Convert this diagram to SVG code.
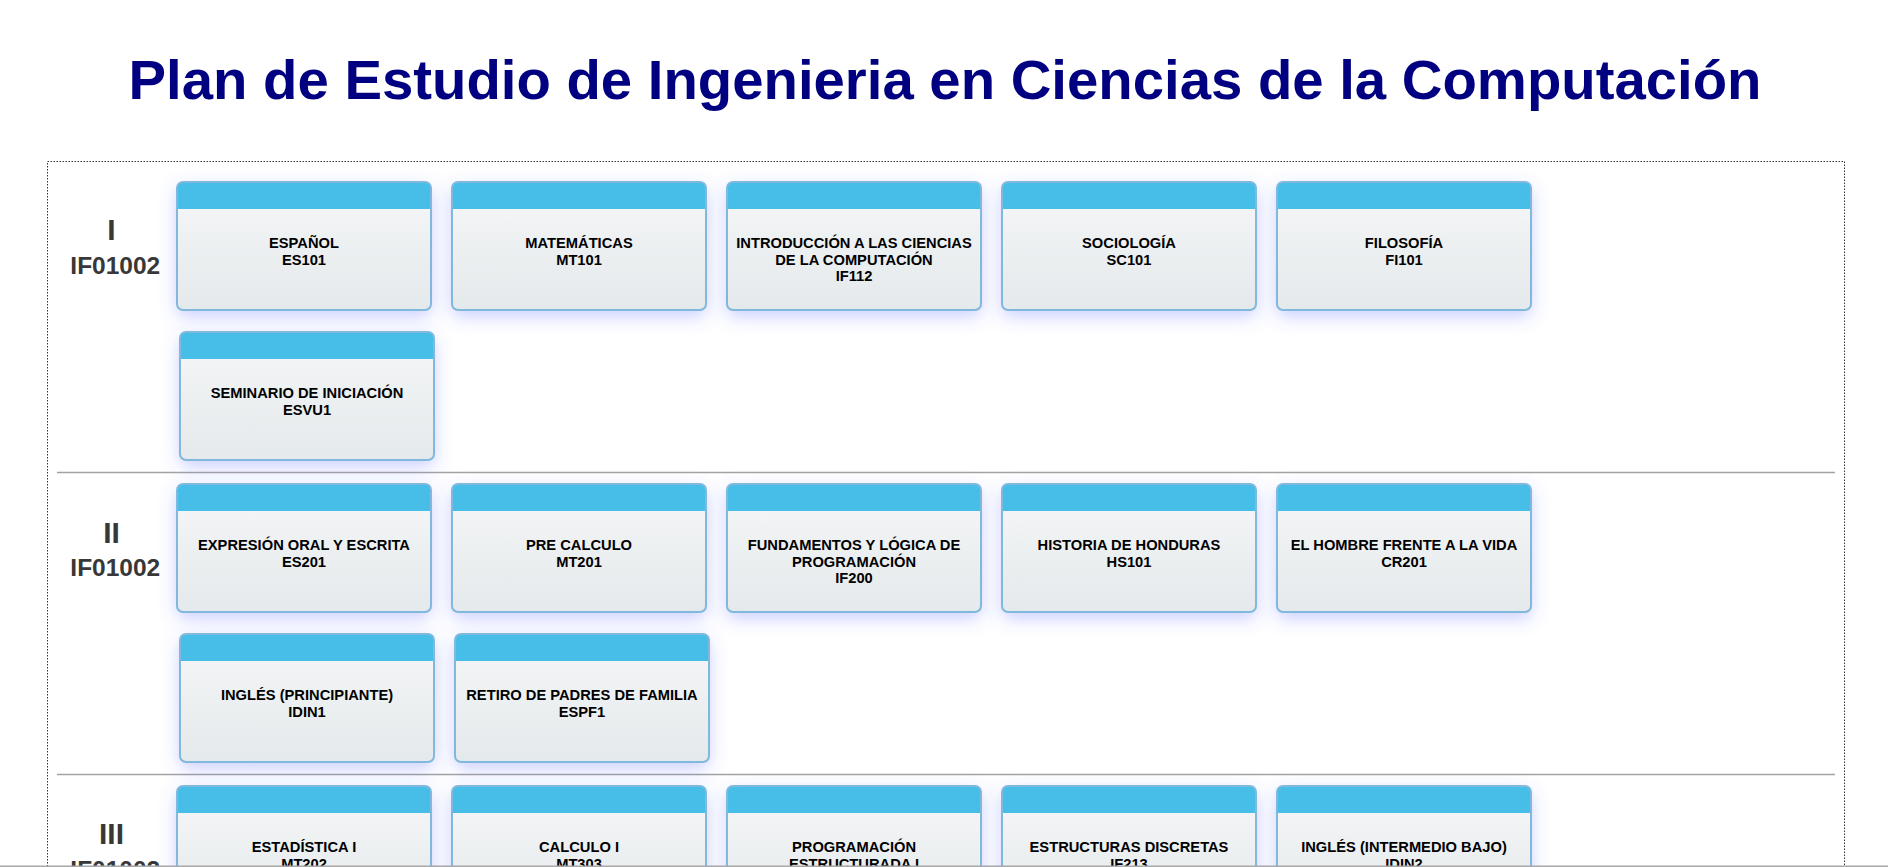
<svg xmlns="http://www.w3.org/2000/svg" xmlns:xlink="http://www.w3.org/1999/xlink" width="1888" height="867" viewBox="0 0 1888 867">
<style>
.title{font-family:"Liberation Sans",Arial,sans-serif;font-weight:bold;font-size:56.3px;fill:#000080;text-anchor:middle}
.sem{font-family:"Liberation Sans",Arial,sans-serif;font-weight:bold;font-size:30px;fill:#383838;text-anchor:middle}
.code{font-family:"Liberation Sans",Arial,sans-serif;font-weight:bold;font-size:24.5px;fill:#383838;text-anchor:middle}
.t{font-family:"Liberation Sans",Arial,sans-serif;font-weight:bold;font-size:14.7px;fill:#000;text-anchor:middle}
.sep{stroke:#a3a3a3;stroke-width:1.5}
</style>
<defs>
<linearGradient id="body" x1="0" y1="0" x2="0" y2="1">
<stop offset="0" stop-color="#f6f7f8"/>
<stop offset="1" stop-color="#e4e9eb"/>
</linearGradient>
<filter id="glow" x="-25%" y="-25%" width="150%" height="160%">
<feDropShadow dx="0" dy="6" stdDeviation="9" flood-color="#4a5cff" flood-opacity="0.3"/>
</filter>
<g id="card">
<rect x="0" y="0" width="254" height="128" rx="6" fill="url(#body)" filter="url(#glow)"/>
<path d="M0,27 V6 Q0,0 6,0 H248 Q254,0 254,6 V27 Z" fill="#46bee8"/>
<rect x="0" y="0" width="254" height="128" rx="6" fill="none" stroke="#80b9dd" stroke-width="2"/>
</g>
</defs>
<rect width="1888" height="867" fill="#fff"/>
<text class="title" x="945" y="99">Plan de Estudio de Ingenieria en Ciencias de la Computación</text>
<rect x="47.5" y="161.5" width="1797" height="720" fill="none" stroke="#333" stroke-width="1" stroke-dasharray="1.5,1.5"/>
<g id="separators">
<line class="sep" x1="57" y1="472.5" x2="1835" y2="472.5"/>
<line class="sep" x1="57" y1="774.5" x2="1835" y2="774.5"/>
</g>
<g id="sem1">
<text class="sem" x="111.5" y="240">I</text>
<text class="code" x="115.3" y="274">IF01002</text>
</g>
<g id="sem2">
<text class="sem" x="111.5" y="543">II</text>
<text class="code" x="115.3" y="576">IF01002</text>
</g>
<g id="sem3">
<text class="sem" x="111.5" y="844">III</text>
<text class="code" x="115.3" y="878">IF01002</text>
</g>
<g id="es101" transform="translate(177,182)"><use href="#card"/><text class="t" x="127" y="66">ESPAÑOL</text><text class="t" x="127" y="83">ES101</text></g>
<g id="mt101" transform="translate(452,182)"><use href="#card"/><text class="t" x="127" y="66">MATEMÁTICAS</text><text class="t" x="127" y="83">MT101</text></g>
<g id="if112" transform="translate(727,182)"><use href="#card"/><text class="t" x="127" y="66">INTRODUCCIÓN A LAS CIENCIAS</text><text class="t" x="127" y="82.7">DE LA COMPUTACIÓN</text><text class="t" x="127" y="99.4">IF112</text></g>
<g id="sc101" transform="translate(1002,182)"><use href="#card"/><text class="t" x="127" y="66">SOCIOLOGÍA</text><text class="t" x="127" y="83">SC101</text></g>
<g id="fi101" transform="translate(1277,182)"><use href="#card"/><text class="t" x="127" y="66">FILOSOFÍA</text><text class="t" x="127" y="83">FI101</text></g>
<g id="esvu1" transform="translate(180,332)"><use href="#card"/><text class="t" x="127" y="66">SEMINARIO DE INICIACIÓN</text><text class="t" x="127" y="83">ESVU1</text></g>
<g id="es201" transform="translate(177,484)"><use href="#card"/><text class="t" x="127" y="66">EXPRESIÓN ORAL Y ESCRITA</text><text class="t" x="127" y="83">ES201</text></g>
<g id="mt201" transform="translate(452,484)"><use href="#card"/><text class="t" x="127" y="66">PRE CALCULO</text><text class="t" x="127" y="83">MT201</text></g>
<g id="if200" transform="translate(727,484)"><use href="#card"/><text class="t" x="127" y="66">FUNDAMENTOS Y LÓGICA DE</text><text class="t" x="127" y="82.7">PROGRAMACIÓN</text><text class="t" x="127" y="99.4">IF200</text></g>
<g id="hs101" transform="translate(1002,484)"><use href="#card"/><text class="t" x="127" y="66">HISTORIA DE HONDURAS</text><text class="t" x="127" y="83">HS101</text></g>
<g id="cr201" transform="translate(1277,484)"><use href="#card"/><text class="t" x="127" y="66">EL HOMBRE FRENTE A LA VIDA</text><text class="t" x="127" y="83">CR201</text></g>
<g id="idin1" transform="translate(180,634)"><use href="#card"/><text class="t" x="127" y="66">INGLÉS (PRINCIPIANTE)</text><text class="t" x="127" y="83">IDIN1</text></g>
<g id="espf1" transform="translate(455,634)"><use href="#card"/><text class="t" x="127" y="66">RETIRO DE PADRES DE FAMILIA</text><text class="t" x="127" y="83">ESPF1</text></g>
<g id="mt202" transform="translate(177,786)"><use href="#card"/><text class="t" x="127" y="66">ESTADÍSTICA I</text><text class="t" x="127" y="83">MT202</text></g>
<g id="mt303" transform="translate(452,786)"><use href="#card"/><text class="t" x="127" y="66">CALCULO I</text><text class="t" x="127" y="83">MT303</text></g>
<g id="if210" transform="translate(727,786)"><use href="#card"/><text class="t" x="127" y="66">PROGRAMACIÓN</text><text class="t" x="127" y="83">ESTRUCTURADA I</text></g>
<g id="if213" transform="translate(1002,786)"><use href="#card"/><text class="t" x="127" y="66">ESTRUCTURAS DISCRETAS</text><text class="t" x="127" y="83">IF213</text></g>
<g id="idin2" transform="translate(1277,786)"><use href="#card"/><text class="t" x="127" y="66">INGLÉS (INTERMEDIO BAJO)</text><text class="t" x="127" y="83">IDIN2</text></g>
<line x1="0" y1="866.2" x2="1888" y2="866.2" stroke="#a8a8a8" stroke-width="1.6"/>
</svg>
